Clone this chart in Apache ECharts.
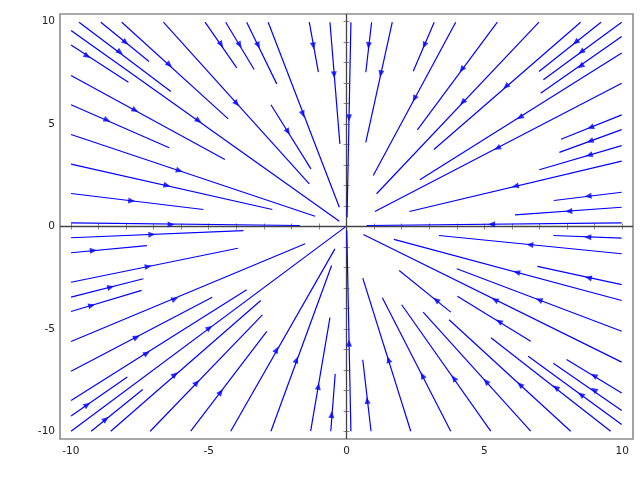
<!DOCTYPE html>
<html><head><meta charset="utf-8">
<script src="https://cdn.jsdelivr.net/npm/echarts@6/dist/echarts.min.js"></script>
<style>html,body{margin:0;padding:0;background:#fff}#c{width:640px;height:480px}</style>
</head><body><div id="c"></div>
<script>
// Streamlines: [xStart, yStart, xEnd, yEnd] (flow goes from start toward the origin)
const upperLeftStreams = [
  [-8.91,9.97,-7.16,8.05],[-9.70,9.97,-6.37,6.59],[-9.99,8.86,-7.91,7.04],[-8.15,9.97,-4.29,5.25],
  [-9.99,9.56,-0.26,0.26],[-9.99,7.37,-4.41,3.27],[-9.99,5.94,-6.43,3.84],[-9.99,4.49,-1.14,0.50],
  [-9.99,3.04,-2.69,0.83],[-9.99,1.61,-5.19,0.83],[-9.99,0.18,-1.69,0.05],[-6.64,9.97,-1.35,2.08],
  [-5.13,9.97,-3.98,7.74],[-4.38,9.97,-3.35,7.66],[-3.62,9.97,-2.53,6.96],[-2.84,9.97,-0.26,0.94],
  [-2.74,5.94,-1.29,2.81],[-1.35,9.97,-1.02,7.53],[-0.60,9.97,-0.24,4.03]
];
const upperLeftArrows = [
  [-8.01,8.98],[-8.21,8.50],[-9.40,8.31],[-6.42,7.89],[-5.36,5.16],[-7.66,5.67],[-8.68,5.19],[-6.06,2.72],
  [-6.51,2.00],[-7.79,1.25],[-6.36,0.10],[-3.98,6.00],[-4.54,8.88],[-3.87,8.86],[-3.20,8.84],[-1.58,5.48],
  [-2.12,4.62],[-1.20,8.81],[-0.45,7.40]
];
const upperRightStreams = [
  [0.16,9.97,0.02,0.45],[0.91,9.97,0.70,7.53],[1.66,9.97,0.70,4.11],[3.18,9.97,2.42,7.58],
  [3.96,9.97,0.97,2.49],[5.47,9.97,2.57,4.72],[6.98,9.97,1.09,1.60],[8.49,9.97,3.17,3.76],
  [9.23,9.97,6.98,7.56],[9.98,9.97,7.14,7.16],[9.98,9.27,7.04,6.50],[9.98,8.47,2.66,2.28],
  [9.98,6.99,1.03,0.73],[9.98,5.45,7.78,4.26],[9.98,4.73,7.72,3.62],[9.98,3.95,6.99,2.77],
  [9.98,3.19,2.28,0.73],[9.98,1.67,7.52,1.27],[9.98,0.94,6.11,0.57],[9.98,0.18,0.73,0.05]
];
const upperRightArrows = [
  [0.09,5.30],[0.80,8.83],[1.24,7.45],[2.82,8.84],[2.46,6.24],[4.18,7.66],[4.21,6.06],[5.78,6.83],
  [8.31,8.99],[8.51,8.52],[8.49,7.82],[6.29,5.33],[5.47,3.82],[8.85,4.83],[8.83,4.16],[8.80,3.48],
  [6.12,1.97],[8.76,1.48],[8.06,0.75],[5.26,0.11]
];
const lowerLeftStreams = [
  [-9.99,-0.55,-3.74,-0.20],[-9.99,-1.28,-7.24,-0.93],[-9.99,-2.72,-3.94,-1.06],[-9.99,-3.45,-7.37,-2.55],
  [-9.99,-4.15,-7.43,-3.12],[-9.99,-5.61,-1.50,-0.84],[-9.99,-7.06,-4.87,-3.45],[-9.99,-8.49,-3.62,-3.09],
  [-9.99,-9.25,-7.95,-7.35],[-9.99,-9.99,-0.05,-0.03],[-9.26,-9.99,-7.39,-7.95],[-8.55,-9.99,-3.11,-3.61],
  [-7.12,-9.99,-3.05,-4.31],[-5.65,-9.99,-2.89,-5.12],[-4.20,-9.99,-0.42,-1.09],[-2.74,-9.99,-0.54,-1.90],
  [-1.30,-9.99,-0.60,-4.45],[-0.57,-9.99,-0.41,-7.19]
];
const lowerLeftArrows = [
  [-7.06,-0.39],[-9.18,-1.17],[-7.19,-1.95],[-8.55,-2.96],[-9.24,-3.85],[-6.22,-3.53],[-7.61,-5.40],[-7.24,-6.18],
  [-9.40,-8.70],[-4.97,-4.94],[-8.73,-9.40],[-6.22,-7.22],[-5.43,-7.62],[-4.56,-8.08],[-2.53,-6.01],[-1.81,-6.50],
  [-1.02,-7.80],[-0.54,-9.17]
];
const lowerRightStreams = [
  [0.16,-9.99,0.01,-0.20],[9.98,-6.62,0.61,-0.39],[9.98,-3.61,1.72,-0.63],[9.98,-1.33,3.35,-0.44],
  [9.98,-0.57,7.50,-0.44],[9.98,-2.84,6.92,-1.95],[9.98,-5.11,4.00,-2.06],[3.78,-4.18,1.91,-2.15],
  [6.68,-5.60,4.02,-3.40],[2.33,-9.99,0.59,-2.52],[3.78,-9.99,1.30,-3.48],[5.23,-9.99,2.00,-3.82],
  [6.68,-9.99,2.78,-4.18],[8.13,-9.99,3.72,-4.55],[9.58,-9.99,5.24,-5.43],[9.98,-9.66,6.59,-6.33],
  [9.98,-8.98,7.50,-6.67],[9.98,-8.13,7.98,-6.49],[0.89,-9.99,0.59,-6.50]
];
const lowerRightArrows = [
  [0.09,-5.69],[5.38,-3.58],[6.17,-2.23],[6.65,-0.89],[8.75,-0.52],[8.77,-2.50],[6.98,-3.58],[3.25,-3.58],
  [5.53,-4.63],[1.52,-6.49],[2.75,-7.27],[3.89,-7.40],[5.06,-7.56],[6.29,-7.71],[7.59,-7.85],[8.50,-8.20],
  [8.97,-7.97],[8.97,-7.27],[0.75,-8.49]
];
const xTickLabels = [-10, -5, 0, 5, 10];
const yTickLabels = [-10, -5, 0, 5, 10];
const minorTicks = [-10,-9,-8,-7,-6,-5,-4,-3,-2,-1,0,1,2,3,4,5,6,7,8,9,10];

const streams = upperLeftStreams.concat(upperRightStreams, lowerLeftStreams, lowerRightStreams);
const arrows = upperLeftArrows.concat(upperRightArrows, lowerLeftArrows, lowerRightArrows);

const chart = echarts.init(document.getElementById('c'), null, {renderer: 'canvas'});
const FONT = 'DejaVu Sans';
const frameColor = '#8c8c8c';
function axisBase(extra) {
  return Object.assign({
    type: 'value',
    axisLine: {show: false},
    splitLine: {show: false},
    axisTick: {show: true, inside: true, length: 3, customValues: minorTicks, lineStyle: {color: frameColor, width: 1}},
    axisLabel: {show: false}
  }, extra);
}
const option = {
  animation: false,
  backgroundColor: '#fff',
  grid: {left: 60, right: 7, top: 14, bottom: 41, show: true, borderColor: frameColor, borderWidth: 1.6, backgroundColor: 'transparent'},
  xAxis: [
    axisBase({min: -10.39, max: 10.39, position: 'bottom',
      axisLabel: {show: true, customValues: xTickLabels, margin: 7, color: '#222', fontFamily: FONT, fontSize: 10.5}}),
    axisBase({min: -10.39, max: 10.39, position: 'top'})
  ],
  yAxis: [
    axisBase({min: -10.37, max: 10.37, position: 'left',
      axisLabel: {show: true, customValues: yTickLabels, margin: 5, color: '#222', fontFamily: FONT, fontSize: 10.5}}),
    axisBase({min: -10.37, max: 10.37, position: 'right'})
  ],
  series: [
    {
      type: 'lines', coordinateSystem: 'cartesian2d', xAxisIndex: 0, yAxisIndex: 0,
      polyline: false, silent: true, z: 3,
      lineStyle: {color: '#0000ff', width: 1.2, opacity: 1},
      data: streams.map(s => ({coords: [[s[0], s[1]], [s[2], s[3]]]}))
    },
    {
      type: 'scatter', xAxisIndex: 0, yAxisIndex: 0, silent: true, z: 4,
      symbol: 'triangle', symbolSize: [6, 7],
      itemStyle: {color: '#0000ff'},
      data: arrows.map(a => ({value: a})),
      markLine: {
        silent: true, symbol: ['none', 'none'], animation: false, z: 2,
        label: {show: false},
        lineStyle: {color: '#444', width: 1.3, type: 'solid'},
        data: [{xAxis: 0}, {yAxis: 0}]
      }
    }
  ]
};
chart.setOption(option);
// rotate each arrowhead along its streamline (pointing from start toward end)
const rotated = arrows.map((a, i) => {
  const s = streams[i];
  const p0 = chart.convertToPixel({gridIndex: 0}, [s[0], s[1]]);
  const p1 = chart.convertToPixel({gridIndex: 0}, [s[2], s[3]]);
  const dx = p1[0] - p0[0], dy = p1[1] - p0[1];
  const rot = Math.atan2(-dx, -dy) * 180 / Math.PI;
  return {value: a, symbolRotate: rot};
});
chart.setOption({series: [{}, {data: rotated}]});
</script>
</body></html>
